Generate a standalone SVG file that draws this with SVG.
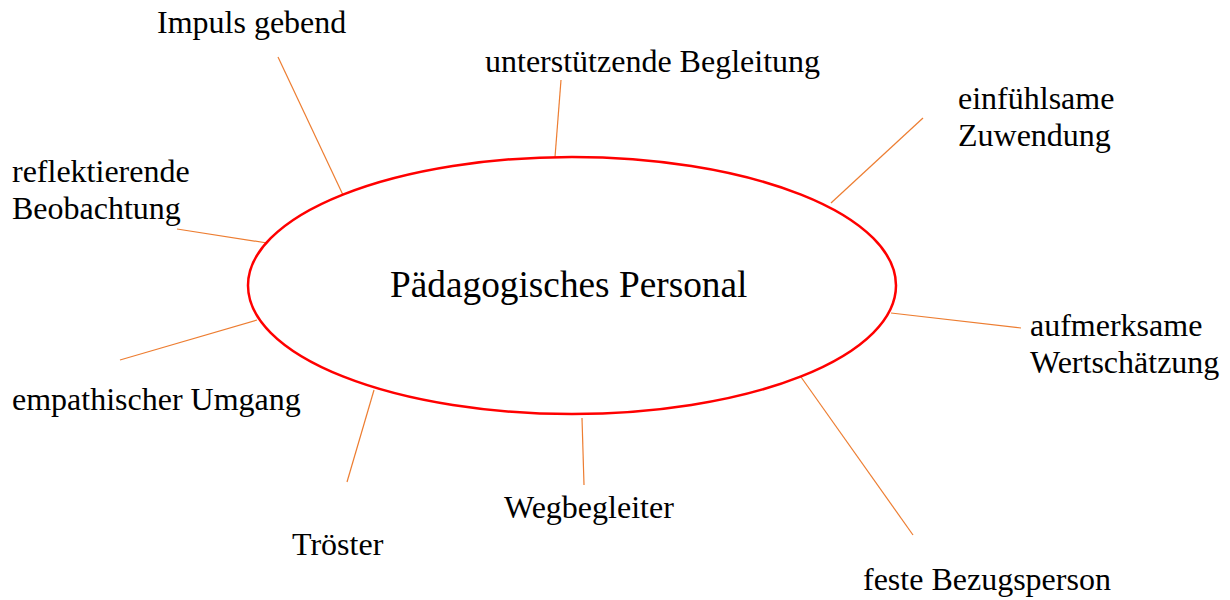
<svg xmlns="http://www.w3.org/2000/svg" width="1230" height="600" viewBox="0 0 1230 600">
<style>
text{font-family:"Liberation Serif","Times New Roman",serif;font-size:32px;fill:#000}
.c{stroke:#ED7D31;stroke-width:1.2;fill:none}
.big{font-size:37.3px}
</style>
<rect width="1230" height="600" fill="#fff"/>
<g id="connectors">
<line class="c" x1="278" y1="57" x2="343" y2="195"/>
<line class="c" x1="561" y1="80" x2="555" y2="157"/>
<line class="c" x1="923" y1="118" x2="831" y2="203"/>
<line class="c" x1="177" y1="229" x2="267" y2="243"/>
<line class="c" x1="120" y1="360" x2="257" y2="320"/>
<line class="c" x1="347" y1="482" x2="374" y2="390"/>
<line class="c" x1="582" y1="418" x2="584" y2="485"/>
<line class="c" x1="801" y1="377" x2="913" y2="535"/>
<line class="c" x1="891" y1="313" x2="1021" y2="328"/>
</g>
<g id="center">
<ellipse cx="572" cy="285.5" rx="324" ry="128.5" fill="none" stroke="#FF0000" stroke-width="2.5"/>
<text class="big" x="390" y="297">Pädagogisches Personal</text>
</g>
<g id="n1"><text x="157" y="33">Impuls gebend</text></g>
<g id="n2"><text x="485" y="72">unterstützende Begleitung</text></g>
<g id="n3"><text x="958" y="109">einfühlsame</text><text x="958" y="146">Zuwendung</text></g>
<g id="n4"><text x="12" y="182">reflektierende</text><text x="12" y="219">Beobachtung</text></g>
<g id="n5"><text x="1030" y="336">aufmerksame</text><text x="1030" y="373">Wertschätzung</text></g>
<g id="n6"><text x="12" y="410">empathischer Umgang</text></g>
<g id="n7"><text x="504" y="518">Wegbegleiter</text></g>
<g id="n8"><text x="292" y="555">Tröster</text></g>
<g id="n9"><text x="863" y="590">feste Bezugsperson</text></g>
</svg>
